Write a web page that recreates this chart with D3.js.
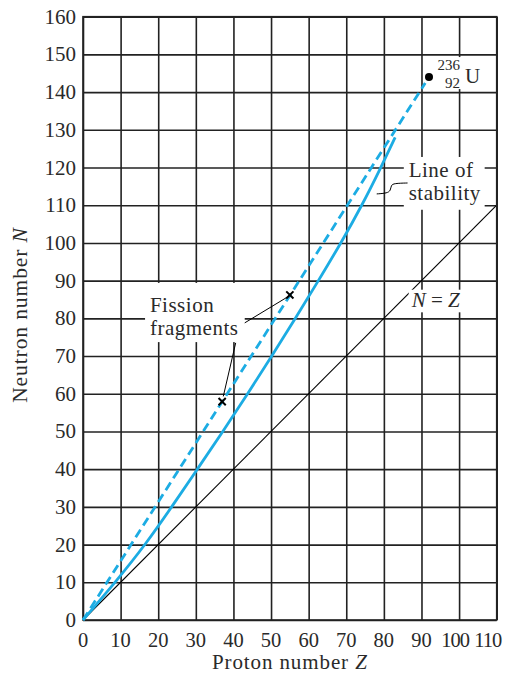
<!DOCTYPE html>
<html>
<head>
<meta charset="utf-8">
<script src="https://cdn.jsdelivr.net/npm/d3@7"></script>
<style>
  body { margin: 0; background: #fff; overflow: hidden; }
  svg { display: block; }
  text { font-family: "Liberation Serif", "Times New Roman", serif; fill: #2a2a2a; }
</style>
</head>
<body>
<div id="chart"></div>
<script>
// ticks
var xTicks = [0, 10, 20, 30, 40, 50, 60, 70, 80, 90, 100, 110];
var yTicks = [0, 10, 20, 30, 40, 50, 60, 70, 80, 90, 100, 110, 120, 130, 140, 150, 160];

// line of stability
var stableZ = [0, 9, 16.6, 23.6, 30.4, 37.2, 43.8, 50.2, 56.5, 62.6, 68.6, 74.2, 79.2, 83];
var stableN = [0, 10.5, 20, 30, 40, 50, 60, 70, 80, 90, 100, 110, 120, 128];

// dashed line from origin toward U-236
var dashZ = [0, 91];
var dashN = [0, 142.4];

// N = Z line
var nzZ = [0, 110];
var nzN = [0, 110];

// fission fragments
var fragZ = [55, 37];
var fragN = [86.2, 57.9];

// uranium
var uZ = 92, uN = 144;

var outerWidth = 513;
var outerHeight = 676;
var margin = { left: 83, top: 16.7, right: 16.3, bottom: 56 };
var innerWidth = outerWidth - margin.left - margin.right;
var innerHeight = outerHeight - margin.top - margin.bottom;

var svg = d3.select('#chart').append('svg')
    .attr('width', outerWidth)
    .attr('height', outerHeight);

var x = d3.scaleLinear().domain([0, 110]).range([margin.left, margin.left + innerWidth]);
var y = d3.scaleLinear().domain([0, 160]).range([margin.top + innerHeight, margin.top]);

var gridColor = '#222';
var cyan = '#1cace3';

// grid through axes
var xAxisG = svg.append('g')
    .attr('transform', 'translate(0,' + y(0) + ')')
    .call(d3.axisBottom(x).tickValues(xTicks).tickSize(-innerHeight).tickSizeOuter(0).tickFormat(''));
var yAxisG = svg.append('g')
    .attr('transform', 'translate(' + x(0) + ',0)')
    .call(d3.axisLeft(y).tickValues(yTicks).tickSize(-innerWidth).tickSizeOuter(0).tickFormat(''));
svg.selectAll('.domain').remove();
svg.selectAll('.tick line').attr('stroke', gridColor).attr('stroke-width', 1.6);

// white boxes behind labels (cut the grid)
var boxes = [
    [16.5, 89.4, 43.0, 73.7],
    [85.3, 122.8, 106.8, 108.8],
    [86.6, 87.6, 103.6, 81.6],
    [93.6, 149.3, 106.8, 140.8]
];

var line = d3.line()
    .x(function (d) { return x(d[0]); })
    .y(function (d) { return y(d[1]); });

// N = Z
svg.append('path')
    .attr('fill', 'none')
    .attr('stroke', '#000')
    .attr('stroke-width', 1.1)
    .attr('d', line(d3.zip(nzZ, nzN)));

boxes.forEach(function (b) {
    svg.append('rect')
        .attr('x', x(b[0])).attr('y', y(b[1]))
        .attr('width', x(b[2]) - x(b[0]))
        .attr('height', y(b[3]) - y(b[1]))
        .attr('fill', '#fff');
});

// frame
svg.append('rect')
    .attr('x', x(0)).attr('y', y(160))
    .attr('width', innerWidth).attr('height', innerHeight)
    .attr('fill', 'none').attr('stroke', gridColor).attr('stroke-width', 1.6);

// dashed line
svg.append('path')
    .attr('fill', 'none')
    .attr('stroke', cyan)
    .attr('stroke-width', 2.8)
    .attr('stroke-dasharray', '9,5')
    .attr('d', line(d3.zip(dashZ, dashN)));

// line of stability
var smooth = d3.line()
    .x(function (d) { return x(d[0]); })
    .y(function (d) { return y(d[1]); })
    .curve(d3.curveBasis);

svg.append('path')
    .attr('fill', 'none')
    .attr('stroke', cyan)
    .attr('stroke-width', 2.8)
    .attr('d', smooth(d3.zip(stableZ, stableN)));

// tick labels
svg.append('g').selectAll('text')
    .data(xTicks)
    .enter().append('text')
    .attr('x', function (d) { return x(d) + (d == 110 ? -9 : d == 100 ? -4 : 0); })
    .attr('y', 647)
    .attr('text-anchor', 'middle')
    .attr('font-size', 20.5)
    .attr('letter-spacing', function (d) { return d >= 100 ? -1 : 0; })
    .text(function (d) { return d; });

svg.append('g').selectAll('text')
    .data(yTicks)
    .enter().append('text')
    .attr('x', 76)
    .attr('y', function (d) { return y(d) + 7; })
    .attr('text-anchor', 'end')
    .attr('font-size', 21)
    .text(function (d) { return d; });

// axis titles
var xt = svg.append('text')
    .attr('x', x(55))
    .attr('y', 669)
    .attr('text-anchor', 'middle')
    .attr('font-size', 21)
    .attr('letter-spacing', 0.9);
xt.append('tspan').text('Proton number ');
xt.append('tspan').attr('font-style', 'italic').text('Z');

var yt = svg.append('text')
    .attr('transform', 'translate(27,' + 315 + ') rotate(-90)')
    .attr('text-anchor', 'middle')
    .attr('font-size', 21.5)
    .attr('letter-spacing', 0.9);
yt.append('tspan').text('Neutron number ');
yt.append('tspan').attr('font-style', 'italic').text('N');

// fission fragments
svg.append('line')
    .attr('x1', x(43.0)).attr('y1', y(78.8))
    .attr('x2', x(54.1)).attr('y2', y(85.5))
    .attr('stroke', '#000').attr('stroke-width', 1);
svg.append('line')
    .attr('x1', x(40.6)).attr('y1', y(73.5))
    .attr('x2', x(37.3)).attr('y2', y(59.3))
    .attr('stroke', '#000').attr('stroke-width', 1);

fragZ.forEach(function (z, i) {
    var cx = x(z), cy = y(fragN[i]), s = 3.6;
    svg.append('path')
        .attr('d', 'M' + (cx - s) + ',' + (cy - s) + 'L' + (cx + s) + ',' + (cy + s) +
                   'M' + (cx - s) + ',' + (cy + s) + 'L' + (cx + s) + ',' + (cy - s))
        .attr('stroke', '#000').attr('stroke-width', 2);
});

svg.append('text').attr('x', x(17.8)).attr('y', y(81.8))
    .attr('font-size', 21).attr('letter-spacing', 0.5).text('Fission');
svg.append('text').attr('x', x(17.8)).attr('y', y(75.6))
    .attr('font-size', 21).attr('letter-spacing', 0.5).text('fragments');

// line of stability label
svg.append('path')
    .attr('fill', 'none')
    .attr('stroke', '#000')
    .attr('stroke-width', 1)
    .attr('d', d3.line().x(function (d) { return x(d[0]); }).y(function (d) { return y(d[1]); })
        .curve(d3.curveBasis)([[78.1, 113.0], [80.9, 113.2], [81.8, 113.9], [81.9, 115.3], [82.7, 115.8], [86.3, 115.9]]));

svg.append('text').attr('x', x(86.6)).attr('y', y(117.6))
    .attr('font-size', 21).attr('letter-spacing', 0.5).text('Line of');
svg.append('text').attr('x', x(86.6)).attr('y', y(111.4))
    .attr('font-size', 21).attr('letter-spacing', 0.5).text('stability');

// N = Z label
var nz = svg.append('text').attr('x', x(87.4)).attr('y', y(83.1)).attr('font-size', 21);
nz.append('tspan').attr('font-style', 'italic').text('N');
nz.append('tspan').text(' = ');
nz.append('tspan').attr('font-style', 'italic').text('Z');

// uranium
svg.append('circle')
    .attr('cx', x(uZ)).attr('cy', y(uN)).attr('r', 4)
    .attr('fill', '#000');
svg.append('text').attr('x', 460).attr('y', y(uN) - 7.5)
    .attr('text-anchor', 'end').attr('font-size', 15).text('236');
svg.append('text').attr('x', 460).attr('y', y(uN) + 10.5)
    .attr('text-anchor', 'end').attr('font-size', 15).text('92');
svg.append('text').attr('x', 465).attr('y', y(uN) + 5.7)
    .attr('font-size', 21).text('U');
</script>
</body>
</html>
